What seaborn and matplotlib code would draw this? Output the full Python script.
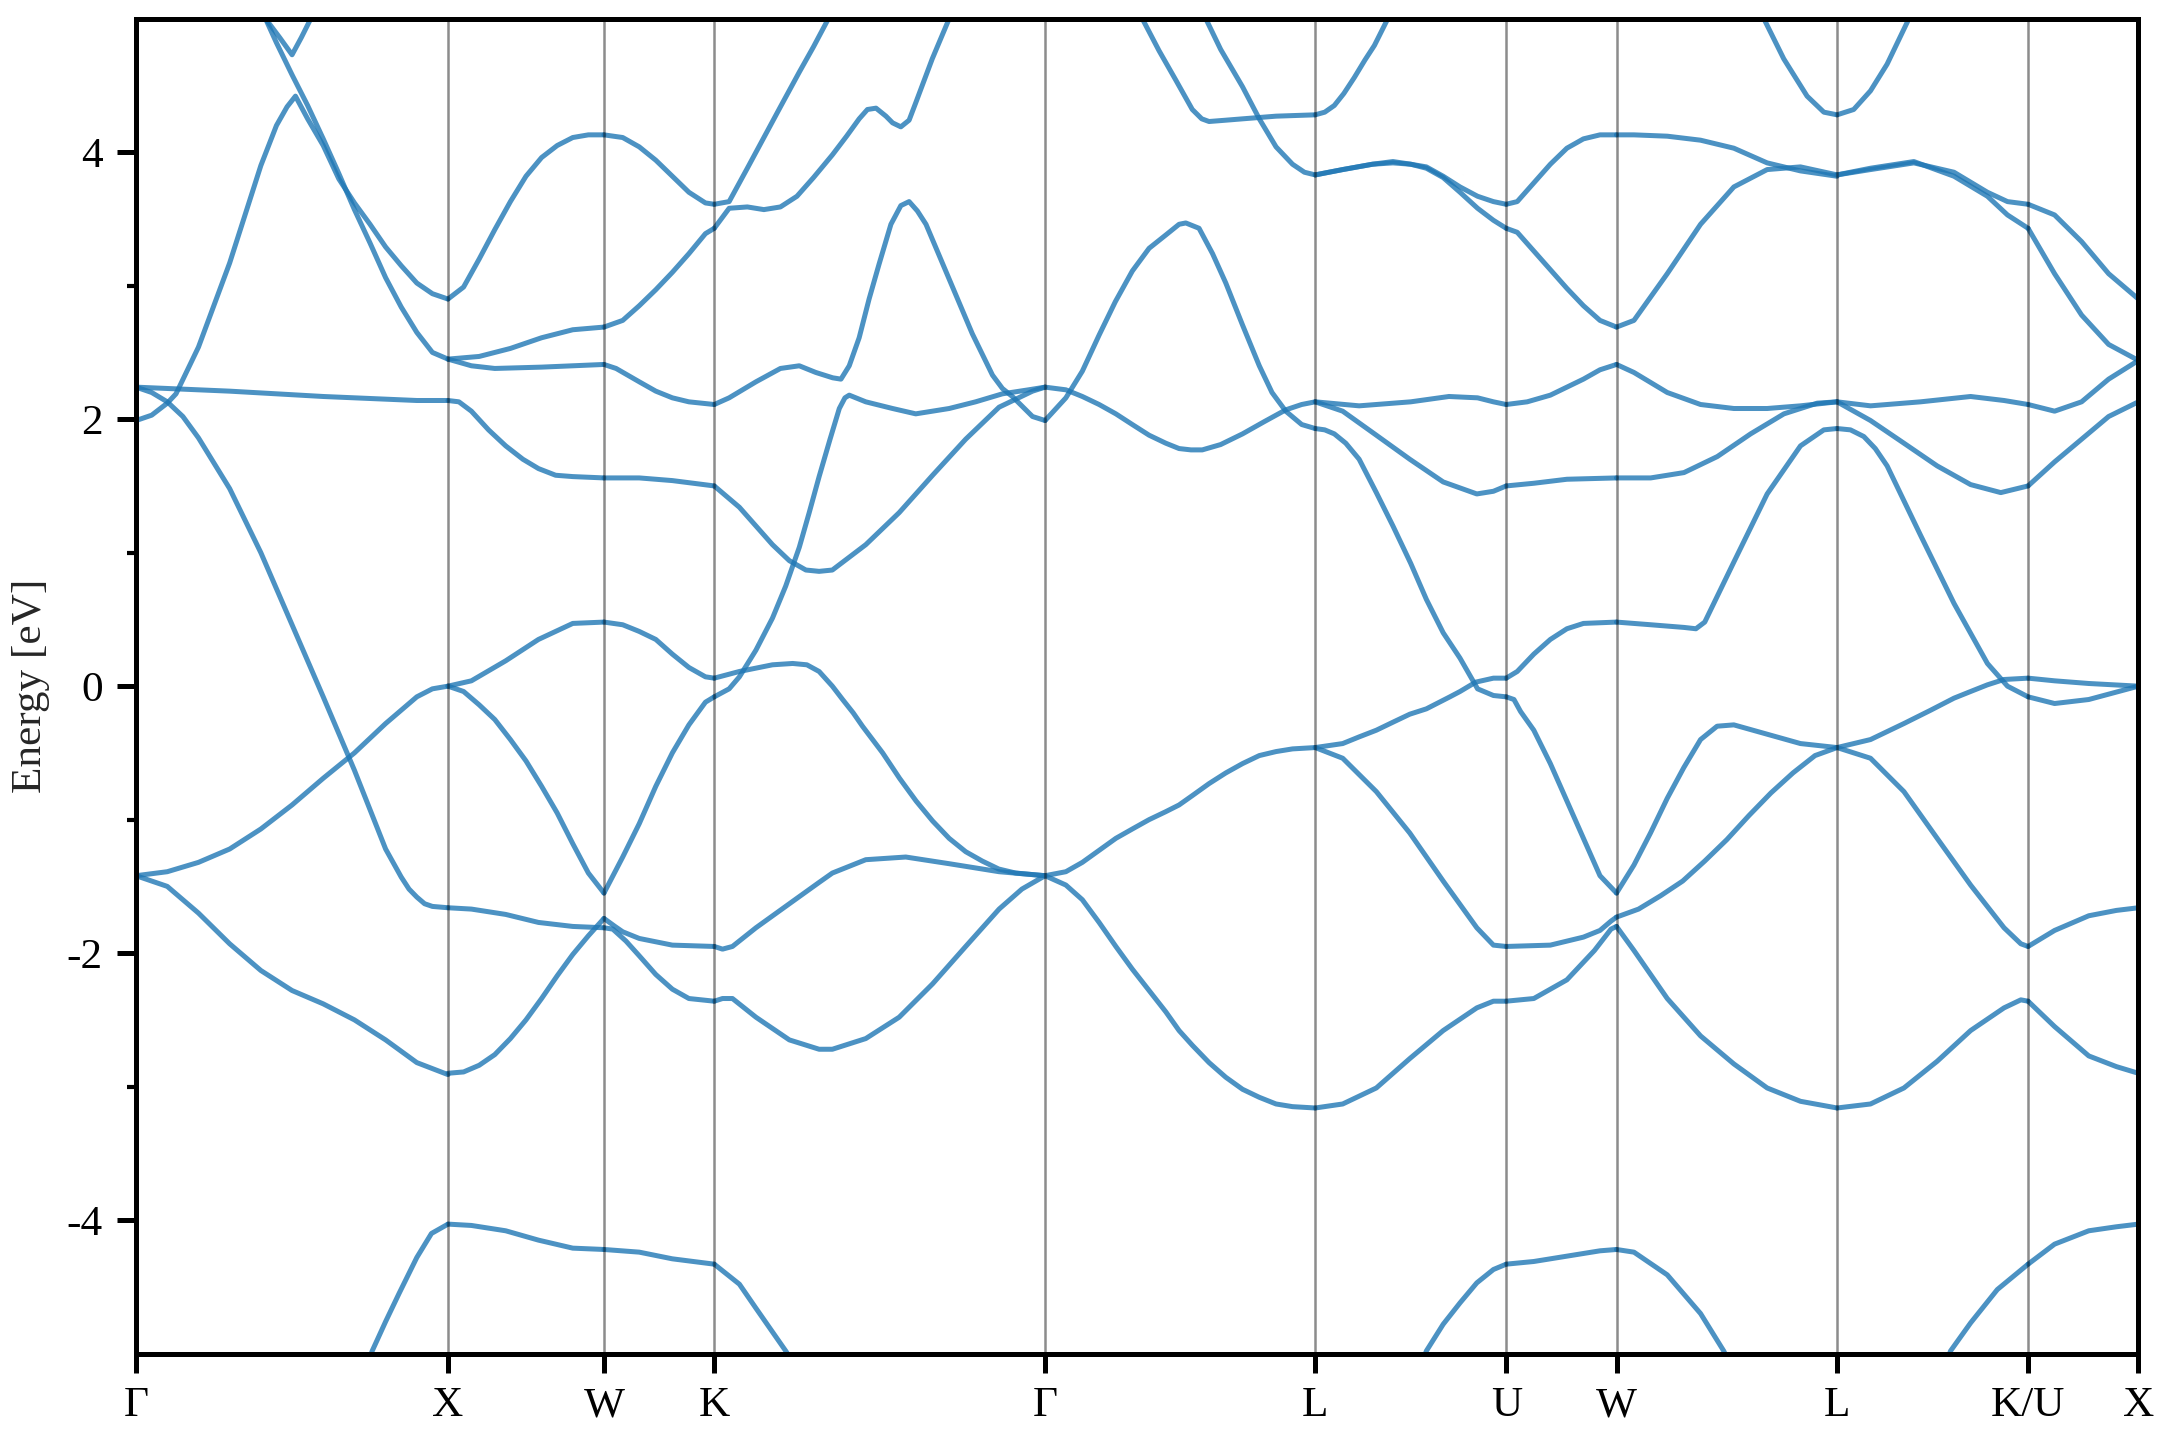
import pandas as pd
import matplotlib
matplotlib.use("Agg")
import matplotlib.pyplot as plt
import seaborn as sns

# --- high-symmetry points along the fcc path (cumulative path length, 2pi/a) ---
kpoint_labels = ["Γ", "X", "W", "K", "Γ", "L", "U", "W", "L", "K/U", "X"]
kpoint_pos = [0.0, 1.0, 1.5, 1.8536, 2.9142, 3.7802, 4.3926, 4.7462, 5.4533, 6.0657, 6.4193]

# --- band energies (eV), read per path segment as (fraction along segment, energy) ---
seg_GX = [
    ([.70, .757, .80, .843, .90, .947, 1.0], [-5.35, -4.98, -4.76, -4.55, -4.28, -4.10, -4.03]),
    ([0, .1, .2, .3, .4, .5, .6, .7, .8, .9, 1], [-1.42, -1.50, -1.70, -1.93, -2.13, -2.28, -2.38, -2.50, -2.65, -2.82, -2.91]),
    ([0, .1, .2, .3, .4, .5, .6, .7, .8, .9, .95, 1], [-1.42, -1.39, -1.32, -1.22, -1.07, -0.89, -0.69, -0.50, -0.28, -0.08, -0.02, 0.0]),
    ([0, .05, .1, .15, .2, .3, .4, .5, .6, .7, .8, .85, .875, .9, .925, .95, 1],
     [2.24, 2.20, 2.13, 2.02, 1.86, 1.48, 1.00, 0.46, -0.08, -0.63, -1.22, -1.43, -1.52, -1.58, -1.63, -1.65, -1.66]),
    ([0, .3, .6, .9, 1], [2.24, 2.21, 2.17, 2.14, 2.14]),
    ([0, .05, .1, .128, .2, .3, .4, .45, .484, .511, .55, .6, .65, .7, .75, .8, .85, .9, .95, 1],
     [1.99, 2.03, 2.12, 2.19, 2.54, 3.17, 3.90, 4.20, 4.34, 4.42, 4.25, 4.05, 3.80, 3.62, 3.46, 3.29, 3.15, 3.02, 2.94, 2.90]),
    ([.38, .415, .45, .5, .55, .6, .65, .7, .75, .8, .85, .9, .95, 1],
     [5.18, 5.0, 4.82, 4.58, 4.35, 4.10, 3.84, 3.57, 3.32, 3.06, 2.84, 2.65, 2.50, 2.45]),
    ([.40, .415, .46, .50, .53, .56, .58], [5.06, 5.0, 4.86, 4.73, 4.86, 5.0, 5.1]),
]

seg_XW = [
    ([0, .1, .2, .3, .4, .5, .6, .7, .8, .9, 1], [2.90, 2.99, 3.20, 3.42, 3.63, 3.82, 3.96, 4.05, 4.11, 4.13, 4.13]),
    ([0, .2, .4, .6, .8, 1], [2.45, 2.47, 2.53, 2.61, 2.67, 2.69]),
    ([0, .15, .3, .6, 1], [2.45, 2.40, 2.38, 2.39, 2.41]),
    ([0, .07, .15, .26, .37, .48, .58, .69, .8, 1], [2.14, 2.13, 2.06, 1.92, 1.80, 1.70, 1.63, 1.58, 1.57, 1.56]),
    ([0, .15, .37, .58, .8, 1], [0.0, 0.04, 0.19, 0.35, 0.47, 0.48]),
    ([0, .1, .2, .3, .4, .5, .6, .7, .8, .9, 1], [0.0, -0.04, -0.14, -0.25, -0.40, -0.56, -0.75, -0.95, -1.18, -1.40, -1.55]),
    ([0, .15, .37, .58, .8, 1], [-1.66, -1.67, -1.71, -1.77, -1.80, -1.81]),
    ([0, .1, .2, .3, .4, .5, .6, .7, .8, .9, 1], [-2.90, -2.89, -2.84, -2.76, -2.64, -2.50, -2.34, -2.17, -2.01, -1.87, -1.74]),
    ([0, .15, .37, .58, .8, 1], [-4.03, -4.04, -4.08, -4.15, -4.21, -4.22]),
]

seg_WK = [
    ([0, .17, .32, .47, .62, .77, .92, 1], [4.13, 4.11, 4.04, 3.94, 3.82, 3.70, 3.62, 3.61]),
    ([0, .17, .32, .47, .62, .77, .92, 1], [2.69, 2.74, 2.85, 2.97, 3.10, 3.24, 3.39, 3.43]),
    ([0, .11, .32, .47, .62, .77, 1], [2.41, 2.38, 2.28, 2.21, 2.16, 2.13, 2.11]),
    ([0, .32, .62, 1], [1.56, 1.56, 1.54, 1.50]),
    ([0, .17, .32, .47, .62, .77, .92, 1], [0.48, 0.46, 0.41, 0.35, 0.24, 0.14, 0.07, 0.06]),
    ([0, .17, .32, .47, .62, .77, .92, 1], [-1.55, -1.28, -1.03, -0.75, -0.50, -0.29, -0.12, -0.08]),
    ([0, .1, .17, .32, .62, 1], [-1.74, -1.80, -1.84, -1.89, -1.94, -1.95]),
    ([0, .08, .2, .32, .47, .62, .77, 1], [-1.81, -1.82, -1.91, -2.02, -2.16, -2.27, -2.34, -2.36]),
    ([0, .32, .62, 1], [-4.22, -4.24, -4.29, -4.33]),
]

seg_KG = [
    ([0, .045, .1, .2, .257, .3, .345, .4], [3.61, 3.63, 3.88, 4.34, 4.60, 4.79, 5.0, 5.25]),
    ([0, .045, .1, .15, .2, .25, .3, .357, .4, .438, .463, .489, .519, .539, .564, .589, .609, .659, .71, .75],
     [3.43, 3.58, 3.59, 3.57, 3.59, 3.67, 3.81, 3.98, 4.12, 4.25, 4.32, 4.33, 4.27, 4.22, 4.19, 4.24, 4.37, 4.70, 5.0, 5.2]),
    ([0, .045, .126, .2, .257, .307, .358, .383, .408, .438, .468, .498, .534, .564, .589, .614, .64, .71, .78, .841, .871, .901, .962, 1],
     [2.11, 2.16, 2.28, 2.38, 2.40, 2.35, 2.31, 2.30, 2.40, 2.61, 2.90, 3.16, 3.46, 3.60, 3.63, 3.56, 3.46, 3.05, 2.64, 2.33, 2.23, 2.17, 2.02, 1.99]),
    ([0, .045, .076, .126, .176, .216, .257, .287, .317, .35, .378, .395, .408, .458, .539, .609, .71, .79, .871, .95, 1],
     [-0.08, -0.02, 0.07, 0.27, 0.51, 0.75, 1.04, 1.30, 1.57, 1.85, 2.08, 2.16, 2.18, 2.13, 2.08, 2.04, 2.08, 2.13, 2.19, 2.22, 2.24]),
    ([0, .076, .176, .237, .28, .317, .357, .388, .42, .448, .509, .56, .61, .66, .71, .76, .81, .86, .911, 1],
     [0.06, 0.11, 0.16, 0.17, 0.16, 0.11, 0.0, -0.10, -0.20, -0.30, -0.50, -0.69, -0.86, -1.01, -1.14, -1.24, -1.31, -1.37, -1.40, -1.42]),
    ([0, .025, .055, .126, .227, .317, .357, .458, .579, .71, .861, 1],
     [-1.95, -1.97, -1.95, -1.81, -1.63, -1.47, -1.40, -1.30, -1.28, -1.33, -1.39, -1.42]),
    ([0, .025, .055, .126, .227, .317, .357, .458, .559, .66, .76, .861, .93, 1],
     [-2.36, -2.34, -2.34, -2.48, -2.65, -2.72, -2.72, -2.64, -2.48, -2.23, -1.95, -1.67, -1.52, -1.42]),
    ([0, .076, .126, .216, .26], [-4.33, -4.48, -4.66, -4.98, -5.15]),
    ([0, .076, .176, .227, .277, .317, .357, .458, .559, .66, .76, .861, .962, 1],
     [1.50, 1.34, 1.06, 0.94, 0.87, 0.86, 0.87, 1.06, 1.30, 1.58, 1.85, 2.09, 2.21, 2.24]),
]

seg_GL = [
    ([0, .077, .138, .2, .26, .323, .385, .447, .496, .521, .57, .62, .669, .73, .793, .84, .891, .95, 1],
     [1.99, 2.16, 2.36, 2.63, 2.88, 3.11, 3.28, 3.38, 3.46, 3.47, 3.43, 3.24, 3.02, 2.71, 2.40, 2.20, 2.06, 1.96, 1.93]),
    ([0, .077, .138, .2, .262, .323, .385, .447, .496, .54, .582, .65, .731, .81, .891, .95, 1],
     [2.24, 2.22, 2.17, 2.11, 2.04, 1.96, 1.88, 1.82, 1.78, 1.77, 1.77, 1.81, 1.89, 1.98, 2.07, 2.11, 2.13]),
    ([0, .077, .138, .2, .262, .323, .385, .447, .496, .545, .607, .669, .731, .793, .855, .916, 1],
     [-1.42, -1.39, -1.32, -1.23, -1.14, -1.07, -1.00, -0.94, -0.89, -0.82, -0.73, -0.65, -0.58, -0.52, -0.49, -0.47, -0.46]),
    ([0, .077, .138, .2, .262, .323, .385, .447, .496, .545, .607, .669, .731, .793, .855, .916, 1],
     [-1.42, -1.49, -1.60, -1.77, -1.95, -2.12, -2.28, -2.44, -2.58, -2.69, -2.82, -2.93, -3.02, -3.08, -3.13, -3.15, -3.16]),
    ([.30, .36, .422, .484, .545, .58, .607, .67, .731, .855, 1], [5.2, 5.0, 4.76, 4.54, 4.32, 4.25, 4.23, 4.24, 4.25, 4.27, 4.28]),
    ([.56, .595, .65, .731, .793, .855, .916, .96, 1], [5.12, 5.0, 4.77, 4.49, 4.25, 4.04, 3.91, 3.85, 3.83]),
]

seg_LU = [
    ([0, .05, .1, .15, .205, .26, .31, .38, .43], [4.28, 4.30, 4.35, 4.44, 4.56, 4.69, 4.80, 5.0, 5.15]),
    ([0, .144, .3, .407, .5, .582, .67, .758, .85, .933, 1], [3.83, 3.87, 3.91, 3.92, 3.91, 3.89, 3.82, 3.74, 3.67, 3.63, 3.61]),
    ([0, .144, .3, .407, .5, .582, .67, .758, .85, .933, 1], [3.83, 3.87, 3.91, 3.93, 3.91, 3.88, 3.81, 3.70, 3.58, 3.49, 3.43]),
    ([0, .23, .5, .7, .85, .933, 1], [2.13, 2.10, 2.13, 2.17, 2.16, 2.13, 2.11]),
    ([0, .144, .32, .495, .67, .846, .933, 1], [2.13, 2.06, 1.88, 1.70, 1.53, 1.44, 1.46, 1.50]),
    ([0, .05, .1, .16, .23, .32, .407, .5, .582, .67, .758, .85, .933, 1],
     [1.93, 1.92, 1.89, 1.82, 1.70, 1.45, 1.20, 0.92, 0.65, 0.40, 0.21, -0.02, -0.07, -0.08]),
    ([0, .144, .23, .32, .407, .495, .582, .705, .758, .84, .933, 1], [-0.46, -0.43, -0.38, -0.33, -0.27, -0.21, -0.17, -0.08, -0.04, 0.03, 0.06, 0.06]),
    ([0, .144, .32, .495, .67, .846, .933, 1], [-0.46, -0.54, -0.79, -1.10, -1.46, -1.81, -1.94, -1.95]),
    ([0, .144, .32, .495, .67, .846, .933, 1], [-3.16, -3.13, -3.01, -2.79, -2.58, -2.41, -2.36, -2.36]),
    ([.5, .582, .67, .758, .846, .933, 1], [-5.3, -4.98, -4.78, -4.62, -4.47, -4.37, -4.33]),
]

seg_UW = [
    ([0, .1, .25, .4, .55, .7, .85, 1], [3.61, 3.63, 3.77, 3.91, 4.03, 4.10, 4.13, 4.13]),
    ([0, .1, .25, .4, .55, .7, .85, 1], [3.43, 3.40, 3.26, 3.12, 2.98, 2.85, 2.74, 2.69]),
    ([0, .19, .4, .7, .85, 1], [2.11, 2.13, 2.18, 2.30, 2.37, 2.41]),
    ([0, .25, .55, 1], [1.50, 1.52, 1.55, 1.56]),
    ([0, .1, .25, .4, .55, .7, 1], [0.06, 0.11, 0.24, 0.35, 0.43, 0.47, 0.48]),
    ([0, .07, .13, .25, .4, .55, .7, .85, 1], [-0.08, -0.10, -0.19, -0.33, -0.58, -0.86, -1.14, -1.42, -1.55]),
    ([0, .4, .7, .85, .95, 1], [-1.95, -1.94, -1.88, -1.83, -1.76, -1.73]),
    ([0, .25, .55, .8, .95, 1], [-2.36, -2.34, -2.20, -1.98, -1.82, -1.80]),
    ([0, .25, .55, .85, 1], [-4.33, -4.31, -4.27, -4.23, -4.22]),
]

seg_WL = [
    ([0, .079, .23, .381, .532, .683, .834, 1], [4.13, 4.13, 4.12, 4.09, 4.03, 3.92, 3.86, 3.82]),
    ([0, .079, .23, .381, .532, .683, .834, 1], [2.69, 2.74, 3.09, 3.46, 3.74, 3.87, 3.89, 3.83]),
    ([0, .079, .23, .381, .532, .683, .834, 1], [2.41, 2.35, 2.20, 2.11, 2.08, 2.08, 2.10, 2.13]),
    ([0, .155, .306, .457, .608, .759, .91, 1], [1.56, 1.56, 1.60, 1.72, 1.89, 2.04, 2.12, 2.13]),
    ([0, .155, .306, .36, .4, .532, .683, .834, .94, 1], [0.48, 0.46, 0.44, 0.43, 0.48, 0.93, 1.44, 1.80, 1.92, 1.93]),
    ([0, .079, .154, .23, .305, .381, .456, .532, .683, .834, 1], [-1.55, -1.34, -1.10, -0.84, -0.61, -0.40, -0.30, -0.29, -0.36, -0.43, -0.46]),
    ([0, .1, .2, .3, .4, .5, .6, .7, .8, .9, 1], [-1.73, -1.67, -1.57, -1.46, -1.31, -1.15, -0.97, -0.80, -0.65, -0.52, -0.46]),
    ([0, .079, .23, .381, .532, .683, .834, 1], [-1.80, -1.98, -2.34, -2.62, -2.83, -3.01, -3.11, -3.16]),
    ([0, .079, .23, .381, .486, .55], [-4.22, -4.24, -4.41, -4.70, -4.98, -5.2]),
    ([.62, .668, .758, .864, .94, 1], [5.17, 5.0, 4.70, 4.42, 4.30, 4.28]),
]

seg_LK = [
    ([0, .087, .175, .262, .376, .42], [4.28, 4.32, 4.46, 4.66, 5.0, 5.15]),
    ([0, .175, .402, .612, .787, .892, 1], [3.83, 3.87, 3.92, 3.85, 3.70, 3.63, 3.61]),
    ([0, .175, .402, .612, .787, .892, 1], [3.83, 3.88, 3.93, 3.82, 3.67, 3.53, 3.43]),
    ([0, .175, .437, .699, .874, 1], [2.13, 2.10, 2.13, 2.17, 2.14, 2.11]),
    ([0, .175, .35, .524, .699, .857, 1], [2.13, 1.99, 1.82, 1.65, 1.51, 1.45, 1.50]),
    ([0, .07, .14, .2, .262, .437, .612, .787, .892, 1], [1.93, 1.92, 1.87, 1.78, 1.65, 1.13, 0.62, 0.17, 0.0, -0.08]),
    ([0, .175, .35, .49, .612, .699, .787, .874, 1], [-0.46, -0.40, -0.28, -0.18, -0.09, -0.04, 0.01, 0.05, 0.06]),
    ([0, .175, .35, .524, .699, .874, .962, 1], [-0.46, -0.54, -0.79, -1.14, -1.49, -1.81, -1.93, -1.95]),
    ([0, .175, .35, .524, .699, .874, .962, 1], [-3.16, -3.13, -3.01, -2.81, -2.58, -2.41, -2.35, -2.36]),
    ([.55, .594, .699, .839, 1], [-5.15, -4.98, -4.77, -4.52, -4.33]),
]

seg_KX = [
    ([0, .24, .485, .73, 1], [3.61, 3.53, 3.33, 3.09, 2.90]),
    ([0, .24, .485, .73, 1], [3.43, 3.09, 2.78, 2.56, 2.44]),
    ([0, .24, .485, .73, 1], [2.11, 2.06, 2.13, 2.30, 2.44]),
    ([0, .24, .485, .73, 1], [1.50, 1.68, 1.85, 2.02, 2.13]),
    ([0, .24, .55, 1], [0.06, 0.04, 0.02, 0.0]),
    ([0, .24, .55, 1], [-0.08, -0.13, -0.10, 0.0]),
    ([0, .24, .55, .8, 1], [-1.95, -1.83, -1.72, -1.68, -1.66]),
    ([0, .24, .55, .8, 1], [-2.36, -2.55, -2.77, -2.85, -2.90]),
    ([0, .24, .55, .8, 1], [-4.33, -4.18, -4.08, -4.05, -4.03]),
]

segments = [seg_GX, seg_XW, seg_WK, seg_KG, seg_GL, seg_LU, seg_UW, seg_WL, seg_LK, seg_KX]

# --- long-form table: one 'curve' id per band piece ---
rows = []
for i, seg in enumerate(segments):
    k0, k1 = kpoint_pos[i], kpoint_pos[i + 1]
    for j, (frac, energy) in enumerate(seg):
        for f, e in zip(frac, energy):
            rows.append({"k": k0 + f * (k1 - k0), "E": e, "curve": f"{i}-{j}"})
df = pd.DataFrame(rows)

sns.set_style("ticks", {"axes.edgecolor": "black", "xtick.color": "black", "ytick.color": "black"})
plt.rcParams["font.family"] = ["Liberation Serif", "DejaVu Serif"]
plt.rcParams["axes.unicode_minus"] = False
plt.rcParams["font.size"] = 10.4

fig, ax = plt.subplots(figsize=(7.2, 4.8), dpi=300)
fig.subplots_adjust(left=0.063, right=0.99, top=0.987, bottom=0.06)

sns.lineplot(data=df, x="k", y="E", units="curve", estimator=None, sort=False,
             color="#1f77b4", alpha=0.8, linewidth=1.2, legend=False, ax=ax)

for k in kpoint_pos[1:-1]:
    ax.axvline(k, color="black", linewidth=0.6, alpha=0.45)

ax.set_xlim(kpoint_pos[0], kpoint_pos[-1])
ax.set_ylim(-5, 5)
ax.set_xticks(kpoint_pos)
ax.set_xticklabels(kpoint_labels)
ax.set_yticks([-4, -2, 0, 2, 4])
ax.set_yticks([-3, -1, 1, 3], minor=True)
ax.set_xlabel("")
ax.set_ylabel("Energy [eV]", fontsize=10.4)
ax.tick_params(axis="both", which="major", length=4.5, width=1.2, labelsize=10.4)
ax.tick_params(axis="y", which="minor", length=2.2, width=1.0)
for sp in ax.spines.values():
    sp.set_linewidth(1.2)

plt.savefig("out.png", dpi=300)
plt.close()
